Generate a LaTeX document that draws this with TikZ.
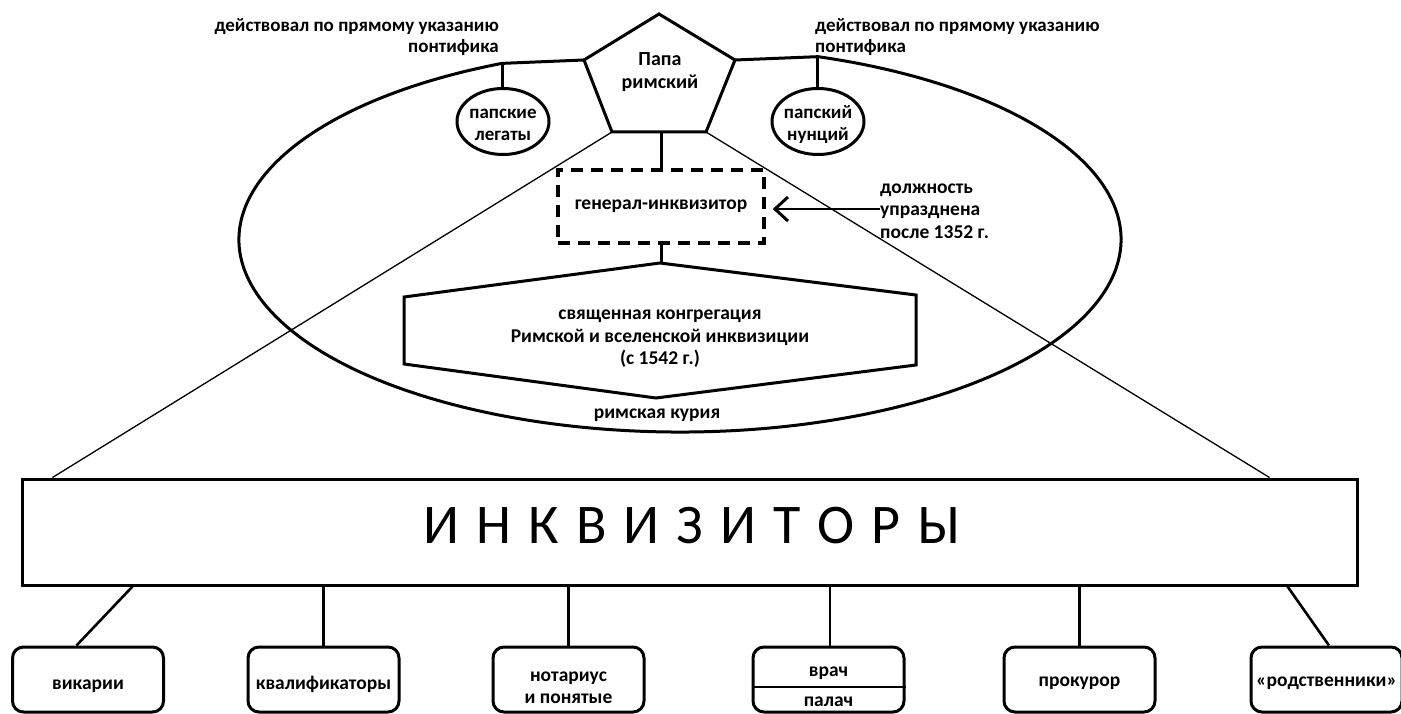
\documentclass[tikz,border=0pt]{standalone}
\usepackage{fontspec}
\setmainfont{Carlito}
\usetikzlibrary{arrows.meta,calc,shapes.geometric}
\begin{document}
\begin{tikzpicture}[x=1pt,y=1pt,
  thickline/.style={line width=3pt},
  conn/.style={line width=2.6pt},
  thinline/.style={line width=1.3pt},
  lbl/.style={font=\fontsize{19.5}{22.5}\selectfont\bfseries, inner sep=0pt, align=center},
  toplbl/.style={font=\fontsize{19}{21.5}\selectfont\bfseries, inner sep=0pt},
  circ/.style={draw, ellipse, line width=3pt, minimum width=92pt, minimum height=66pt, inner sep=0pt, fill=white},
  smallbox/.style={draw, line width=3pt, rounded corners=11pt, minimum width=151pt, minimum height=65pt, inner sep=0pt, fill=white},
  dashbox/.style={draw, line width=3.5pt, dash pattern=on 12pt off 8pt, minimum width=206pt, minimum height=73pt, inner sep=0pt},
  arrowline/.style={line width=1.2pt, -{Straight Barb[length=13pt, width=24pt, line width=3pt]}}
]
\useasboundingbox (0,0) rectangle (1401,-714);
\fill[white] (0,0) rectangle (1401,-714);

% big ellipse (roman curia)
\coordinate (ec) at (680,-239.5);
\coordinate (jL) at ($(ec)+(113.8:441 and 192.5)$);
\coordinate (jR) at ($(ec)+(71.77:441 and 192.5)$);
\draw[thickline] (jL) arc[start angle=113.8, end angle=431.77, x radius=441, y radius=192.5];

% pentagon
\coordinate (pT) at (659,-14);
\coordinate (pL) at (584,-60);
\coordinate (pR) at (735,-60);
\coordinate (pBL) at (612,-132);
\coordinate (pBR) at (706,-132);

% inquisitors box
\node[draw, thickline, minimum width=1335pt, minimum height=106pt, inner sep=0pt, fill=white] (inq) at (689.5,-532) {};
\node[font=\fontsize{56}{60}\selectfont, inner sep=0pt] (inqt) at (692,-526) {\spaceskip=17pt И Н К В И З И Т О Р Ы};

% thin lines from the pope to the inquisitors
\draw[thinline] (pBL) -- ($(inq.north west)+(32,0)$);
\draw[thinline] (pBR) -- ($(inq.north east)+(-89,0)$);

\draw[thickline, fill=white] (pT) -- (pR) -- (pBR) -- (pBL) -- (pL) -- cycle;
\node[lbl, font=\fontsize{20}{23}\selectfont\bfseries] (pope) at (660,-72) {Папа\\римский};

% legates and nuncio
\draw[thickline] (pL) -- (jL);
\draw[thickline] (pR) -- (jR);
\node[circ] (leg) at (503,-121.5) {};
\node[circ] (nun) at (818,-121.5) {};
\node[lbl, font=\fontsize{19}{22}\selectfont\bfseries] (legt) at (503,-125) {папские\\легаты};
\node[lbl, font=\fontsize{19}{22}\selectfont\bfseries] (nunt) at (818,-125) {папский\\нунций};
\draw[thickline] (jL) -- (jL |- leg.north);
\draw[thickline] (jR) -- (jR |- nun.north);

\node[toplbl, align=right, anchor=east] (tl) at (499,-37) {действовал по прямому указанию\\понтифика};
\node[toplbl, align=left, anchor=west] (tr) at (815,-37) {действовал по прямому указанию\\понтифика};

% general inquisitor
\node[dashbox, lbl] (gen) at (661,-206.5) {генерал-инквизитор};
\draw[thickline] (gen.north |- pBL) -- (gen.north);
\node[lbl, align=left, anchor=west] (abol) at (880,-211) {должность\\упразднена\\после 1352 г.};
\draw[arrowline] ([yshift=2pt]abol.west) -- ([xshift=7pt,yshift=2pt]gen.east |- abol.west);

% congregation hexagon
\coordinate (hT) at (660,-263);
\coordinate (hUR) at (916,-295);
\coordinate (hLR) at (916,-365);
\coordinate (hB) at (656,-398);
\coordinate (hLL) at (404,-364);
\coordinate (hUL) at (404,-297);
\draw[thickline, fill=white] (hT) -- (hUR) -- (hLR) -- (hB) -- (hLL) -- (hUL) -- cycle;
\draw[thickline] (gen.south) -- (gen.south |- hT);
\node[lbl] (cong) at (660,-339) {священная конгрегация\\Римской и вселенской инквизиции\\(с 1542 г.)};
\node[lbl] (curia) at (657,-415) {римская курия};

% subordinate boxes
\node[smallbox] (vik) at (88,-679.5) {};
\node[smallbox] (kval) at (323.5,-679.5) {};
\node[smallbox] (not) at (568.5,-679.5) {};
\node[smallbox] (vp) at (828.5,-679.5) {};
\node[smallbox] (prok) at (1079.5,-679.5) {};
\node[smallbox] (rod) at (1326.5,-679.5) {};
\node[lbl, anchor=base] (vikt) at (88,-689) {викарии};
\node[lbl, anchor=base] (kvalt) at (323.5,-689) {квалификаторы};
\node[lbl] (nott) at ($(not)+(0,-8)$) {нотариус\\и понятые};
\node[lbl, anchor=base] (prokt) at (1079.5,-686) {прокурор};
\node[lbl, anchor=base] (rodt) at (1326.5,-686) {«родственники»};
\draw[conn] ($(vp.west)+(0,-7.5)$) -- ($(vp.east)+(0,-7.5)$);
\node[lbl, anchor=base] (vrach) at (828.5,-676) {врач};
\node[lbl, anchor=base] (palach) at (828.5,-706) {палач};

\draw[conn] ($(inq.south west)+(112,0)$) -- ($(vik.north west)+(65.5,0)$);
\draw[conn] (kval.north) -- (kval.north |- inq.south);
\draw[conn] (not.north) -- (not.north |- inq.south);
\draw[conn] ([xshift=1.5pt]vp.north) -- ([xshift=1.5pt]vp.north |- inq.south);
\draw[conn] (prok.north) -- (prok.north |- inq.south);
\draw[conn] ($(inq.south east)+(-71,0)$) -- ($(rod.north)+(2.5,0)$);
\end{tikzpicture}
\end{document}
